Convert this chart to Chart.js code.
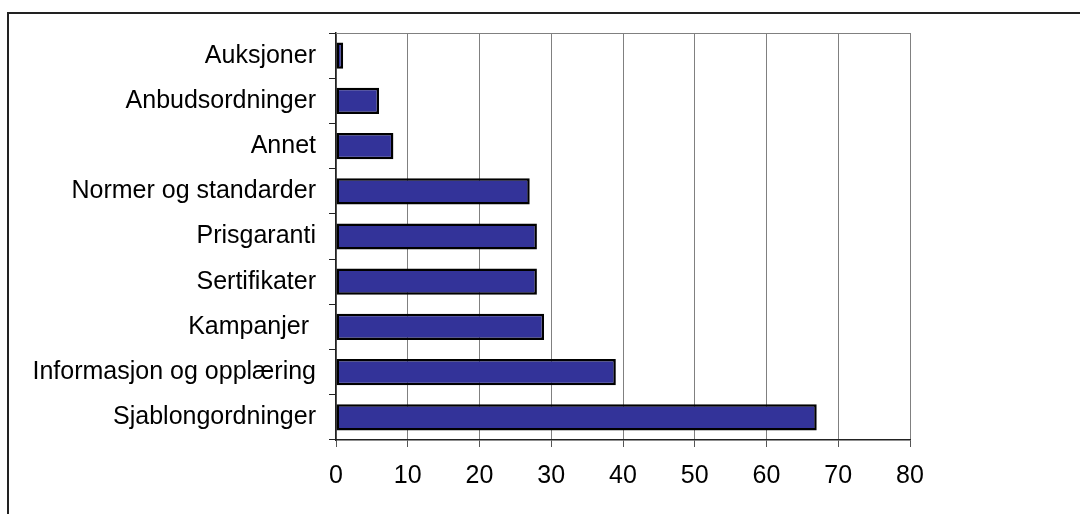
<!DOCTYPE html>
<html>
<head>
<meta charset="utf-8">
<script src="https://cdn.jsdelivr.net/npm/chart.js@4/dist/chart.umd.min.js"></script>
<style>
    html, body { margin: 0; padding: 0; background: #ffffff; overflow: hidden; }
    #frame {
        position: absolute; left: 7px; top: 12px; width: 1100px; height: 540px;
        border-top: 2px solid #222; border-left: 2px solid #222;
    }
    #chart { position: absolute; left: 0; top: 0; }
</style>
</head>
<body>
<div id="frame"></div>
<canvas id="chart" width="1080" height="514"></canvas>
<script>
const categories = [
    'Auksjoner', 'Anbudsordninger', 'Annet', 'Normer og standarder', 'Prisgaranti',
    'Sertifikater', 'Kampanjer ', 'Informasjon og opplæring', 'Sjablongordninger'
];
const values = [1, 6, 8, 27, 28, 28, 29, 39, 67];
const xTicks = [0, 10, 20, 30, 40, 50, 60, 70, 80];

const fontSpec = { family: '"Liberation Sans", Arial, sans-serif', size: 25 };

// grey line along the top of the plot area
const topBorder = {
    id: 'topBorder',
    afterDraw(chart) {
        const { ctx, chartArea } = chart;
        ctx.save();
        ctx.strokeStyle = '#808080';
        ctx.lineWidth = 1;
        ctx.beginPath();
        ctx.moveTo(chartArea.left, chartArea.top + 0.5);
        ctx.lineTo(chartArea.right, chartArea.top + 0.5);
        ctx.stroke();
        ctx.restore();
    }
};

new Chart(document.getElementById('chart').getContext('2d'), {
    type: 'bar',
    data: {
        labels: categories,
        datasets: [{
            data: values,
            backgroundColor: '#333399',
            borderColor: '#000000',
            borderWidth: 2.5,
            borderSkipped: false,
            barPercentage: 0.58,
            categoryPercentage: 1
        }]
    },
    options: {
        indexAxis: 'y',
        responsive: false,
        animation: false,
        layout: { padding: { top: 33, right: 170, bottom: 0, left: 0 } },
        plugins: { legend: { display: false }, tooltip: { enabled: false } },
        scales: {
            x: {
                min: 0,
                max: 80,
                afterBuildTicks: scale => { scale.ticks = xTicks.map(v => ({ value: v })); },
                afterFit: scale => { scale.height = 74; },
                grid: { color: '#808080', lineWidth: 1, tickLength: 7, tickColor: '#555' },
                border: { color: '#222', width: 1.5 },
                ticks: { color: '#000', font: fontSpec, padding: 14, maxRotation: 0 }
            },
            y: {
                afterFit: scale => { scale.width = 336; },
                grid: { offset: true, drawOnChartArea: false, tickLength: 7, tickColor: '#222' },
                border: { color: '#222', width: 1.5 },
                ticks: { color: '#000', font: fontSpec, padding: 13, autoSkip: false }
            }
        }
    },
    plugins: [topBorder]
});
</script>
</body>
</html>
